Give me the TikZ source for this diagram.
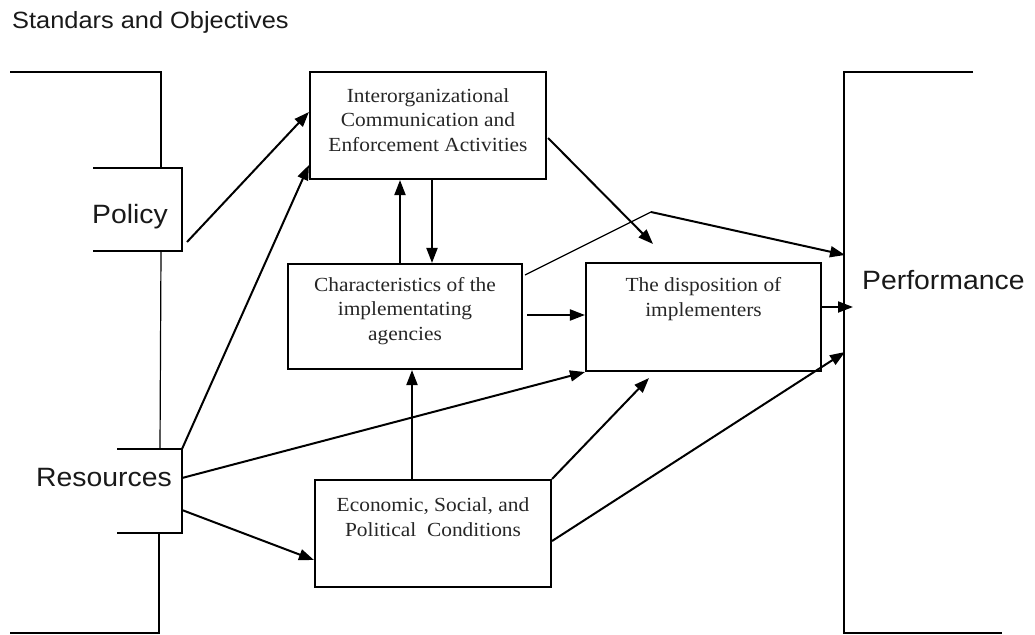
\documentclass[tikz,border=0pt]{standalone}
\usepackage{fontspec}
\usetikzlibrary{arrows.meta,calc}
\newfontfamily\sansx[FakeStretch=1.07]{Liberation Sans}
\newfontfamily\sanst[FakeStretch=1.08]{Liberation Sans}
\newfontfamily\serifx[FakeStretch=1.07]{Liberation Serif}
\begin{document}
\begin{tikzpicture}[x=1pt,y=-1pt,
  box/.style={draw, line width=2.1pt, rectangle, inner sep=0pt},
  boxtext/.style={font=\serifx\fontsize{20}{24.5}\selectfont, align=center, text=black!85, inner sep=0pt},
  bigtext/.style={font=\sansx\fontsize{26.5}{30}\selectfont, inner sep=0pt, anchor=base west, text=black!90},
  frame/.style={line width=2.1pt},
  thinline/.style={line width=1.2pt},
  arr/.style={line width=2pt, -{Triangle[length=15pt,width=11pt]}},
]
\useasboundingbox (0,0) rectangle (1035,634);

% title
\node[font=\sanst\fontsize{23.5}{27}\selectfont, anchor=base west, inner sep=0pt, text=black!90] (title) at (12,29) {Standars and Objectives};

% left bracket with Policy and Resources
\draw[frame] (10,72) -- (161,72) -- (161,168);
\draw[frame] (93,168) -- (182,168) -- (182,251) -- (93,251);
\draw[thinline] (161,251) -- (160,449);
\draw[frame] (117,449) -- (182,449) -- (182,533) -- (117,533);
\draw[frame] (159,533) -- (159,633) -- (10,633);
\node[bigtext] (policy) at (92,223) {Policy};
\node[bigtext] (resources) at (36,486) {Resources};

% right bracket with Performance
\draw[frame] (973,72) -- (844,72) -- (844,633) -- (1002,633);
\node[bigtext] (performance) at (862,289) {Performance};

% boxes
\node[box, minimum width=236pt, minimum height=107pt] (inter) at (428,125.5) {};
\node[boxtext] (intert) at (428,120) {Interorganizational\\Communication and\\Enforcement Activities};

\node[box, minimum width=234pt, minimum height=105pt] (char) at (405,316.5) {};
\node[boxtext] (chart) at (405,311) {Characteristics of the\\implementating\\agencies};

\node[box, minimum width=235pt, minimum height=108pt] (disp) at (703.5,317) {};
\node[boxtext] (dispt) at (703.5,299) {The disposition of\\implementers};

\node[box, minimum width=236pt, minimum height=107pt] (econ) at (433,533.5) {};
\node[boxtext] (econt) at (433,517) {Economic, Social, and\\Political~ Conditions};

% named free points
\coordinate (polR) at (187,242);
\coordinate (resTR) at (182,449);
\coordinate (resR1) at (182,478);
\coordinate (resR2) at (182,510);
\coordinate (interTip) at (653,244);
\coordinate (peak) at (651,212);
\coordinate (perfA) at (845,255);
\coordinate (perfB) at (853,307);
\coordinate (perfC) at (845,352);
\coordinate (econTip) at (649,378);

% connectors
\draw[arr] (polR) -- (inter.west |- 0,112);
\draw[arr] (resTR) -- (inter.west |- 0,165);
\draw[arr] (char.north -| 400,0) -- (inter.south -| 400,0);
\draw[arr] (inter.south -| 432,0) -- (char.north -| 432,0);
\draw[arr] ([xshift=1pt]inter.east |- 0,138) -- (interTip);
\draw[thinline] ([xshift=2pt]char.east |- 0,275) -- (peak);
\draw[arr] (peak) -- (perfA);
\draw[arr] ([xshift=4pt]char.east |- 0,315) -- (disp.west |- 0,315);
\draw[arr] (disp.east |- 0,307) -- (perfB);
\draw[arr] (resR1) -- (disp.south west);
\draw[arr] (econ.north -| 412,0) -- (char.south -| 412,0);
\draw[arr] (econ.north east) -- (econTip);
\draw[arr] (econ.east |- 0,541) -- (perfC);
\draw[arr] (resR2) -- (econ.west |- 0,560);
\end{tikzpicture}
\end{document}
